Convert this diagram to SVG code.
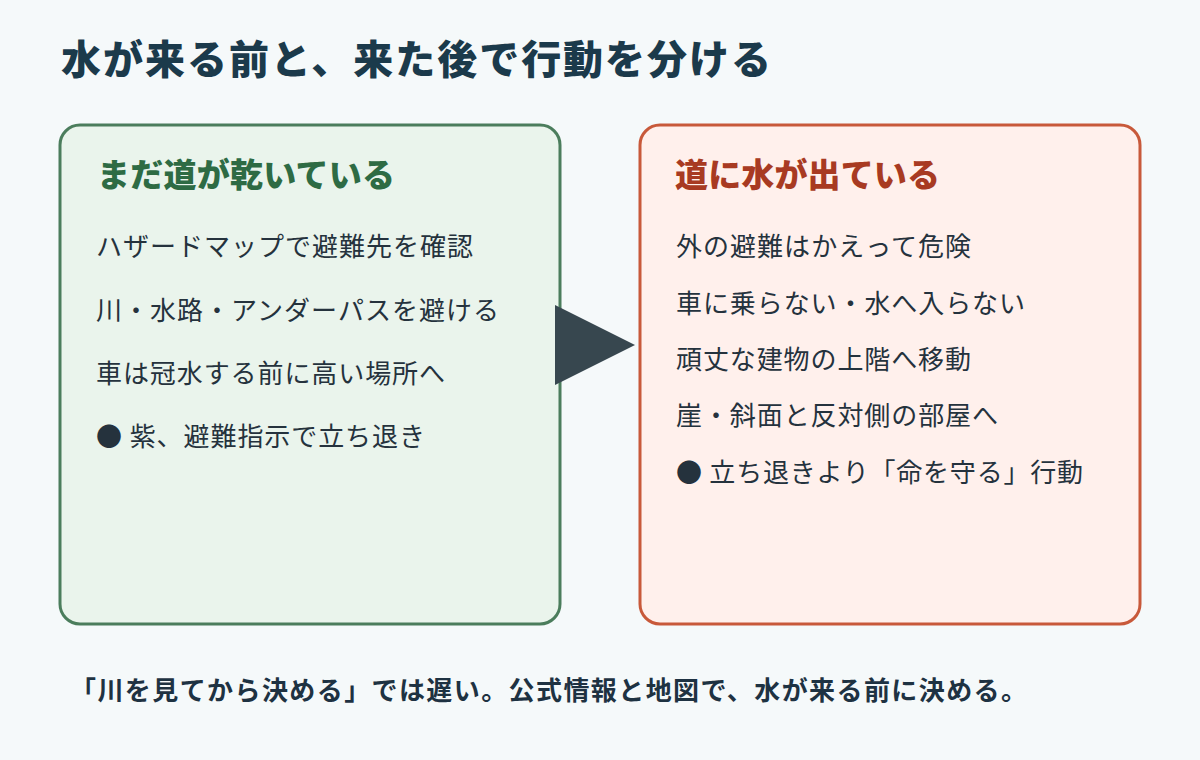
<svg xmlns="http://www.w3.org/2000/svg" width="1200" height="760" viewBox="0 0 1200 760">
  <style>
    .title { font-family: "Noto Sans CJK JP", "Noto Sans", sans-serif; font-weight: 900; font-size: 40px; fill: #1b3a4b; }
    .head { font-family: "Noto Sans CJK JP", "Noto Sans", sans-serif; font-weight: 900; font-size: 33px; }
    .item { font-family: "Noto Sans CJK JP", "Noto Sans", sans-serif; font-weight: 400; font-size: 26px; fill: #25323d; }
    .note { font-family: "Noto Sans CJK JP", "Noto Sans", sans-serif; font-weight: 700; font-size: 26px; fill: #1e3242; }
    .panel { stroke-width: 3; }
  </style>
  <rect x="0" y="0" width="1200" height="760" fill="#f5f9fa"/>
  <text class="title" x="61" y="74" textLength="710">水が来る前と、来た後で行動を分ける</text>

  <g id="before">
    <rect class="panel" x="60" y="125" width="500" height="499" rx="20" fill="#eaf4ec" stroke="#4b7d5c"/>
    <text class="head" x="97" y="187" fill="#2e6b44" textLength="298">まだ道が乾いている</text>
    <text class="item" x="96" y="256" textLength="377">ハザードマップで避難先を確認</text>
    <text class="item" x="96" y="320" textLength="403">川・水路・アンダーパスを避ける</text>
    <text class="item" x="96" y="383" textLength="349">車は冠水する前に高い場所へ</text>
    <text class="item" x="96" y="446" textLength="329">● 紫、避難指示で立ち退き</text>
  </g>

  <g id="connectors">
    <polygon points="555,305 635,345 555,385" fill="#37474f"/>
  </g>

  <g id="after">
    <rect class="panel" x="640" y="125" width="500" height="499" rx="20" fill="#fff0ec" stroke="#c8593a"/>
    <text class="head" x="675" y="187" fill="#a83a22" textLength="265">道に水が出ている</text>
    <text class="item" x="676" y="256" textLength="295">外の避難はかえって危険</text>
    <text class="item" x="676" y="313" textLength="349">車に乗らない・水へ入らない</text>
    <text class="item" x="676" y="369" textLength="295">頑丈な建物の上階へ移動</text>
    <text class="item" x="676" y="425" textLength="322">崖・斜面と反対側の部屋へ</text>
    <text class="item" x="676" y="482" textLength="407">● 立ち退きより「命を守る」行動</text>
  </g>

  <text class="note" x="70" y="700" textLength="957">「川を見てから決める」では遅い。公式情報と地図で、水が来る前に決める。</text>
</svg>
